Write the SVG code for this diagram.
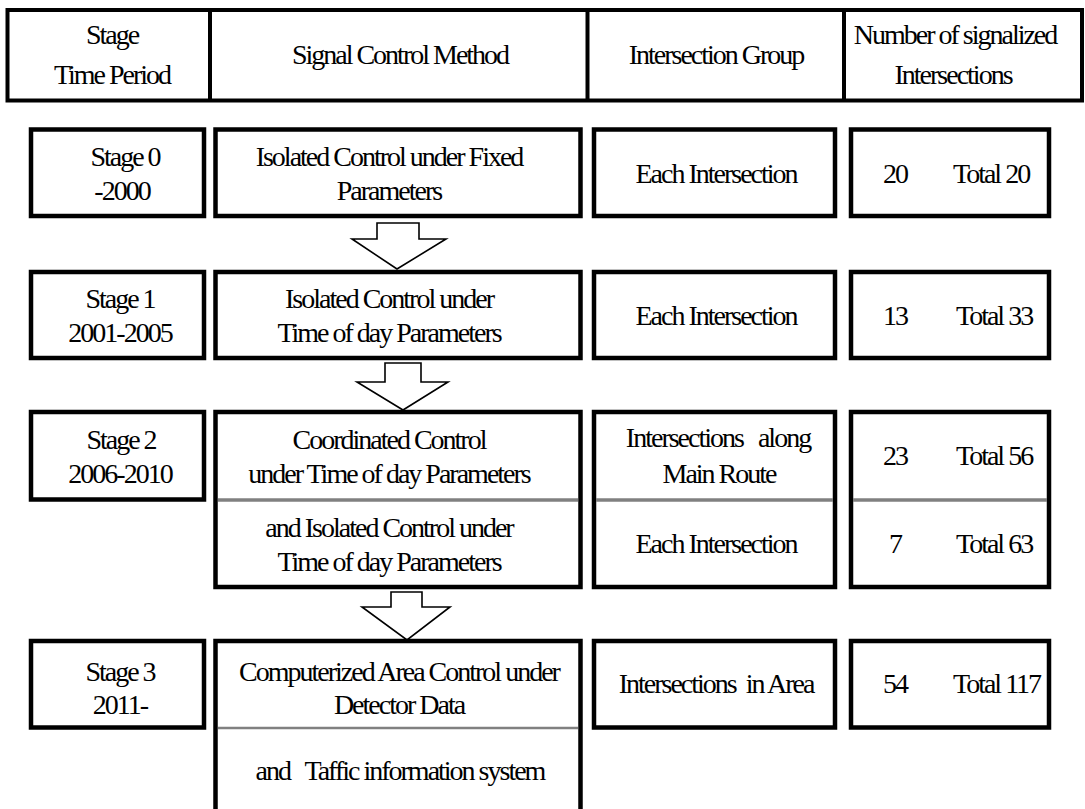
<svg xmlns="http://www.w3.org/2000/svg" width="1085" height="809" viewBox="0 0 1085 809" font-family="'Liberation Serif', 'DejaVu Serif', serif">
<style>
text{font-family:'Liberation Serif','DejaVu Serif',serif;font-size:28px;letter-spacing:-2px;fill:#000;white-space:pre}
.m{text-anchor:middle}
.box{fill:#fff;stroke:#000;stroke-width:4.5}
.hdr{fill:none;stroke:#000;stroke-width:4}
.sep{stroke:#808080;stroke-width:3.5}
.arr{fill:#fff;stroke:#000;stroke-width:1.6;stroke-linejoin:miter}
</style>
<rect width="1085" height="809" fill="#fff"/>
<g id="header">
<rect class="hdr" x="7.5" y="10" width="1074.5" height="90.5"/>
<line class="hdr" x1="210" y1="10" x2="210" y2="100.5"/>
<line class="hdr" x1="587.5" y1="10" x2="587.5" y2="100.5"/>
<line class="hdr" x1="844" y1="10" x2="844" y2="100.5"/>
<text class="m" x="112" y="44">Stage</text>
<text class="m" x="112" y="84">Time Period</text>
<text class="m" x="400" y="64">Signal Control Method</text>
<text class="m" x="716" y="64">Intersection Group</text>
<text class="m" x="955" y="44">Number of signalized</text>
<text class="m" x="953" y="84">Intersections</text>
</g>
<g id="connectors">
<polygon class="arr" points="377,223 419,223 419,239 446,239 397,269 352,239 377,239"/>
<polygon class="arr" points="385,363 421,363 421,382 448,382 403,410 357,382 385,382"/>
<polygon class="arr" points="391,592 422,592 422,607 450,607 407,640 362,607 391,607"/>
</g>
<g id="stage0">
<rect class="box" x="31" y="129.5" width="173" height="86.5"/>
<text class="m" x="125" y="166">Stage 0</text>
<text class="m" x="122" y="200">-2000</text>
</g>
<g id="method0">
<rect class="box" x="215.5" y="129.5" width="365" height="86.5"/>
<text class="m" x="389" y="166">Isolated Control under Fixed</text>
<text class="m" x="389" y="200">Parameters</text>
</g>
<g id="group0">
<rect class="box" x="594" y="129.5" width="241" height="86.5"/>
<text class="m" x="716" y="183">Each Intersection</text>
</g>
<g id="number0">
<rect class="box" x="851" y="129.5" width="198" height="86.5"/>
<text class="m" x="895" y="183">20</text>
<text x="953" y="183">Total 20</text>
</g>
<g id="stage1">
<rect class="box" x="31" y="272" width="173" height="86"/>
<text class="m" x="120" y="308">Stage 1</text>
<text class="m" x="120" y="342">2001-2005</text>
</g>
<g id="method1">
<rect class="box" x="215.5" y="272" width="365" height="86"/>
<text class="m" x="389" y="308">Isolated Control under</text>
<text class="m" x="389" y="342">Time of day Parameters</text>
</g>
<g id="group1">
<rect class="box" x="594" y="272" width="241" height="86"/>
<text class="m" x="716" y="325">Each Intersection</text>
</g>
<g id="number1">
<rect class="box" x="851" y="272" width="198" height="86"/>
<text class="m" x="895" y="325">13</text>
<text x="956" y="325">Total 33</text>
</g>
<g id="stage2">
<rect class="box" x="31" y="412" width="173" height="87.5"/>
<text class="m" x="121" y="449">Stage 2</text>
<text class="m" x="120" y="483">2006-2010</text>
</g>
<g id="method2">
<rect class="box" x="215.5" y="412" width="365" height="175"/>
<line class="sep" x1="218" y1="500" x2="578" y2="500"/>
<text class="m" x="389" y="449">Coordinated Control</text>
<text class="m" x="389" y="483">under Time of day Parameters</text>
<text class="m" x="389" y="537">and Isolated Control under</text>
<text class="m" x="389" y="571">Time of day Parameters</text>
</g>
<g id="group2">
<rect class="box" x="594" y="412" width="241" height="175"/>
<line class="sep" x1="596" y1="500" x2="833" y2="500"/>
<text class="m" x="718" y="447">Intersections   along</text>
<text class="m" x="719" y="483">Main Route</text>
<text class="m" x="716" y="553">Each Intersection</text>
</g>
<g id="number2">
<rect class="box" x="851" y="412" width="198" height="175"/>
<line class="sep" x1="853" y1="500" x2="1047" y2="500"/>
<text class="m" x="895" y="465">23</text>
<text x="956" y="465">Total 56</text>
<text class="m" x="895" y="553">7</text>
<text x="956" y="553">Total 63</text>
</g>
<g id="stage3">
<rect class="box" x="31" y="641" width="173" height="86.5"/>
<text class="m" x="120" y="681">Stage 3</text>
<text class="m" x="120" y="714">2011-</text>
</g>
<g id="method3">
<path class="box" d="M215.5,812 V641 H580.5 V812"/>
<line class="sep" x1="218" y1="728" x2="578" y2="728" style="stroke-width:2.5"/>
<text class="m" x="399" y="681">Computerized Area Control under</text>
<text class="m" x="399" y="714">Detector Data</text>
<text class="m" x="400" y="780">and   Taffic information system</text>
</g>
<g id="group3">
<rect class="box" x="594" y="641" width="241" height="86.5"/>
<text class="m" x="716" y="693">Intersections  in Area</text>
</g>
<g id="number3">
<rect class="box" x="851" y="641" width="198" height="86.5"/>
<text class="m" x="895" y="693">54</text>
<text x="953" y="693">Total 117</text>
</g>
</svg>
